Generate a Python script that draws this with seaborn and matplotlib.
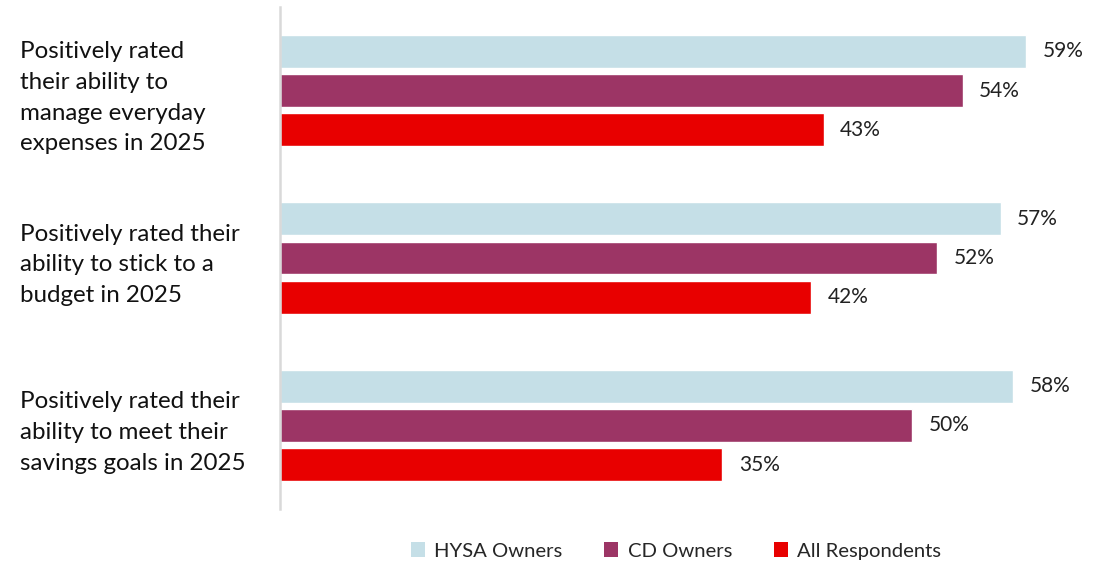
import matplotlib
matplotlib.use("Agg")
import matplotlib.pyplot as plt
import seaborn as sns
import pandas as pd
from matplotlib.patches import Patch

categories = [
    "Positively rated\ntheir ability to\nmanage everyday\nexpenses in 2025",
    "Positively rated their\nability to stick to a\nbudget in 2025",
    "Positively rated their\nability to meet their\nsavings goals in 2025",
]
series_names = ["HYSA Owners", "CD Owners", "All Respondents"]
hysa = [59, 57, 58]
cd = [54, 52, 50]
all_resp = [43, 42, 35]
colors = ["#C5DFE7", "#9C3565", "#E80000"]

rows = []
for name, vals in zip(series_names, [hysa, cd, all_resp]):
    for c, v in zip(categories, vals):
        rows.append({"category": c, "series": name, "value": v})
df = pd.DataFrame(rows)

sns.set_theme(style="white")
plt.rcParams["font.family"] = ["Lato", "DejaVu Sans"]

fig = plt.figure(figsize=(11.1, 5.64), dpi=100)
ax = fig.add_axes([280/1110, 1-509/564, (1090-280)/1110, (509-7)/564])

sns.barplot(data=df, y="category", x="value", hue="series", order=categories,
            hue_order=series_names, palette=colors, orient="h", width=0.703,
            gap=0.16, ax=ax, legend=False, saturation=1, errorbar=None)

for cont in ax.containers:
    ax.bar_label(cont, labels=[f"{v:.0f}%" for v in cont.datavalues],
                 padding=12, fontsize=15, color="#222222")

ax.set_xlim(0, 64.08)
ax.set_ylim(2.5, -0.5)
ax.set_xlabel("")
ax.set_ylabel("")
ax.set_xticks([])
for s in ["top", "right", "bottom"]:
    ax.spines[s].set_visible(False)
ax.spines["left"].set_color("#D9D9D9")
ax.spines["left"].set_linewidth(1.8)

ax.tick_params(axis="y", length=0, pad=187, labelsize=17.4, labelcolor="#111111")
for lab in ax.get_yticklabels():
    lab.set_horizontalalignment("left")
    lab.set_linespacing(1.58)

handles = [Patch(facecolor=c, edgecolor="none") for c in colors]
fig.legend(handles, series_names, loc="center", ncol=3,
           bbox_to_anchor=(676/1110, 1-551/564), frameon=False,
           fontsize=14.6, handlelength=0.7, handleheight=0.7,
           handletextpad=0.45, columnspacing=2.05)

fig.savefig("out.png", dpi=100)
